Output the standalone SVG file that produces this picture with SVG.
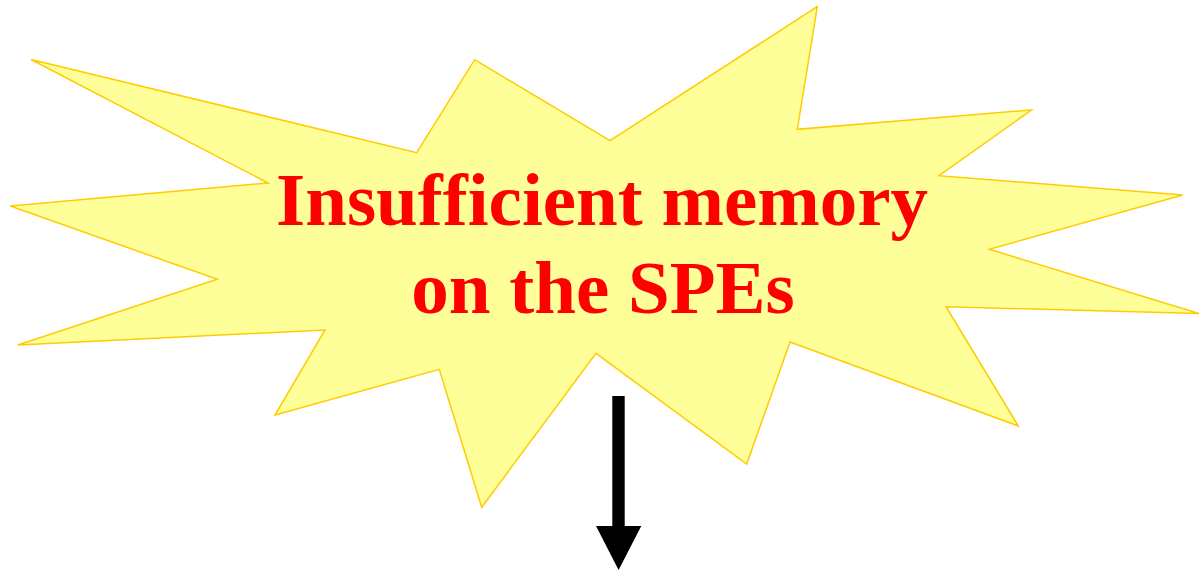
<svg xmlns="http://www.w3.org/2000/svg" width="1200" height="572" viewBox="0 0 1200 572">
  <defs>
    <style>
      .burst { fill: #FFFF99; stroke: #FFCC00; stroke-width: 1.5; stroke-linejoin: miter; }
      .label { font-family: "Liberation Serif", "Times New Roman", serif; font-weight: bold; font-size: 75px; fill: #FF0000; text-anchor: middle; }
    </style>
    <marker id="arrowhead" viewBox="0 0 46 44" refX="23" refY="44" markerWidth="46" markerHeight="44" markerUnits="userSpaceOnUse" orient="auto-start-reverse">
      <path d="M0,0 L46,0 L23,44 Z" fill="#000000"/>
    </marker>
  </defs>
  <rect width="1200" height="572" fill="#FFFFFF"/>
  <g id="burst-node">
    <polygon class="burst" points="31,59.5 416.7,152.7 474.7,59.7 610,140.7 817.3,6.5 797.3,129.3 1031.5,110 939,175.7 1182.7,195 989.3,249.3 1199,313.5 946,306.7 1018.3,426 790,342 746.7,464 596,353.3 481.7,507.3 439.3,369.3 275,415 325,330 17.7,345 217.3,279.3 10.3,206 268,183"/>
    <text class="label" x="602" y="224.5">Insufficient memory</text>
    <text class="label" x="603" y="313">on the SPEs</text>
  </g>
  <g id="connectors">
    <rect x="612.3" y="396" width="12.4" height="131" fill="#000000"/>
    <polygon points="596,526 641.3,526 618.6,570" fill="#000000"/>
  </g>
</svg>
